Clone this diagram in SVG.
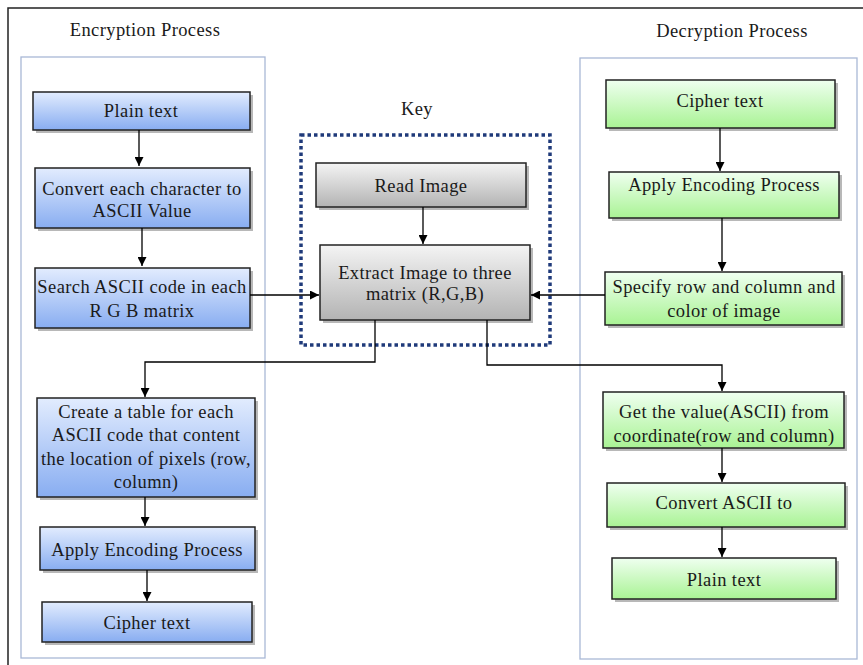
<svg xmlns="http://www.w3.org/2000/svg" width="863" height="665" viewBox="0 0 863 665">
  <defs>
    <linearGradient id="gBlue" x1="0" y1="0" x2="0" y2="1">
      <stop offset="0" stop-color="#e2ecfe"/>
      <stop offset="1" stop-color="#88adf1"/>
    </linearGradient>
    <linearGradient id="gGreen" x1="0" y1="0" x2="0" y2="1">
      <stop offset="0" stop-color="#effff0"/>
      <stop offset="1" stop-color="#a9f394"/>
    </linearGradient>
    <linearGradient id="gGray" x1="0" y1="0" x2="0" y2="1">
      <stop offset="0" stop-color="#f4f4f4"/>
      <stop offset="1" stop-color="#b3b3b3"/>
    </linearGradient>
    <marker id="arr" viewBox="0 0 10 10" refX="10" refY="5" markerWidth="9" markerHeight="9" markerUnits="userSpaceOnUse" orient="auto">
      <path d="M0,0 L10,5 L0,10 z" fill="#000"/>
    </marker>
  </defs>
  <style>
    text { font-family: "Liberation Serif", "Times New Roman", serif; font-size: 18.5px; fill: #1a1a1a; text-anchor: middle; letter-spacing: 0.4px; }
    .box { stroke: #222; stroke-width: 1.5; }
    .shadow { fill: #9a9a9a; opacity: 0.7; }
    .blue { fill: url(#gBlue); }
    .green { fill: url(#gGreen); }
    .gray { fill: url(#gGray); }
    .panel { fill: none; stroke: #a9b8d6; stroke-width: 1.3; }
    .wire { fill: none; stroke: #000; stroke-width: 1.3; }
  </style>

  <rect width="863" height="665" fill="#fff"/>
  <!-- outer frame -->
  <rect x="8" y="8" width="880" height="690" fill="none" stroke="#222" stroke-width="1.5"/>

  <!-- panel frames and titles -->
  <rect class="panel" x="21" y="57" width="244" height="601"/>
  <rect class="panel" x="580" y="58" width="277" height="601"/>
  <text x="145" y="36">Encryption Process</text>
  <text x="732" y="37">Decryption Process</text>

  <!-- key region -->
  <text x="417" y="115">Key</text>
  <rect x="301" y="135" width="249" height="210" fill="none" stroke="#1f3a7a" stroke-width="3.5" stroke-dasharray="3.5 3"/>

  <!-- encryption steps -->
  <g id="enc-plain">
    <rect class="shadow" x="36" y="95" width="217" height="38"/>
    <rect class="box blue" x="33" y="92" width="217" height="38"/>
    <text x="141" y="117">Plain text</text>
  </g>
  <g id="enc-convert">
    <rect class="shadow" x="38" y="171" width="215" height="60"/>
    <rect class="box blue" x="35" y="168" width="215" height="60"/>
    <text x="142" y="195">Convert each character to</text>
    <text x="142" y="217">ASCII Value</text>
  </g>
  <g id="enc-search">
    <rect class="shadow" x="38" y="271" width="215" height="60"/>
    <rect class="box blue" x="35" y="268" width="215" height="60"/>
    <text x="142" y="293">Search ASCII code in each</text>
    <text x="142" y="317">R G B matrix</text>
  </g>
  <g id="enc-table">
    <rect class="shadow" x="40" y="401" width="218" height="99"/>
    <rect class="box blue" x="37" y="398" width="218" height="99"/>
    <text x="146" y="418">Create a table for each</text>
    <text x="146" y="441">ASCII code that content</text>
    <text x="146" y="465">the location of pixels (row,</text>
    <text x="146" y="488">column)</text>
  </g>
  <g id="enc-apply">
    <rect class="shadow" x="43" y="530" width="215" height="43"/>
    <rect class="box blue" x="40" y="527" width="215" height="43"/>
    <text x="147" y="556">Apply Encoding Process</text>
  </g>
  <g id="enc-cipher">
    <rect class="shadow" x="45" y="605" width="210" height="40"/>
    <rect class="box blue" x="42" y="602" width="210" height="40"/>
    <text x="147" y="629">Cipher text</text>
  </g>

  <!-- key steps -->
  <g id="key-read">
    <rect class="shadow" x="319" y="166" width="210" height="44"/>
    <rect class="box gray" x="316" y="163" width="210" height="44"/>
    <text x="421" y="192">Read Image</text>
  </g>
  <g id="key-extract">
    <rect class="shadow" x="323" y="248" width="210" height="75"/>
    <rect class="box gray" x="320" y="245" width="210" height="75"/>
    <text x="425" y="279">Extract Image to three</text>
    <text x="425" y="300">matrix (R,G,B)</text>
  </g>

  <!-- decryption steps -->
  <g id="dec-cipher">
    <rect class="shadow" x="609" y="83" width="229" height="48"/>
    <rect class="box green" x="606" y="80" width="229" height="48"/>
    <text x="720" y="107">Cipher text</text>
  </g>
  <g id="dec-apply">
    <rect class="shadow" x="612" y="175" width="230" height="46"/>
    <rect class="box green" x="609" y="172" width="230" height="46"/>
    <text x="724" y="191">Apply Encoding Process</text>
  </g>
  <g id="dec-specify">
    <rect class="shadow" x="608" y="275" width="237" height="53"/>
    <rect class="box green" x="605" y="272" width="237" height="53"/>
    <text x="724" y="293">Specify row and column and</text>
    <text x="724" y="317">color of image</text>
  </g>
  <g id="dec-getvalue">
    <rect class="shadow" x="606" y="395" width="241" height="56"/>
    <rect class="box green" x="603" y="392" width="241" height="56"/>
    <text x="724" y="418">Get the value(ASCII) from</text>
    <text x="724" y="442">coordinate(row and column)</text>
  </g>
  <g id="dec-convert">
    <rect class="shadow" x="610" y="486" width="238" height="44"/>
    <rect class="box green" x="607" y="483" width="238" height="44"/>
    <text x="724" y="509">Convert ASCII to</text>
  </g>
  <g id="dec-plain">
    <rect class="shadow" x="615" y="561" width="224" height="41"/>
    <rect class="box green" x="612" y="558" width="224" height="41"/>
    <text x="724" y="586">Plain text</text>
  </g>

  <!-- connectors -->
  <g id="connectors">
    <path class="wire" d="M139,130 V166" marker-end="url(#arr)"/>
    <path class="wire" d="M142,228 V266" marker-end="url(#arr)"/>
    <path class="wire" d="M250,295 H319" marker-end="url(#arr)"/>
    <path class="wire" d="M375,320 V362 H145 V397" marker-end="url(#arr)"/>
    <path class="wire" d="M145,497 V526" marker-end="url(#arr)"/>
    <path class="wire" d="M147,570 V601" marker-end="url(#arr)"/>
    <path class="wire" d="M423,207 V244" marker-end="url(#arr)"/>
    <path class="wire" d="M605,295 H531" marker-end="url(#arr)"/>
    <path class="wire" d="M487,320 V365 H722 V391" marker-end="url(#arr)"/>
    <path class="wire" d="M720,128 V171" marker-end="url(#arr)"/>
    <path class="wire" d="M722,218 V271" marker-end="url(#arr)"/>
    <path class="wire" d="M722,448 V482" marker-end="url(#arr)"/>
    <path class="wire" d="M722,527 V557" marker-end="url(#arr)"/>
  </g>
</svg>
